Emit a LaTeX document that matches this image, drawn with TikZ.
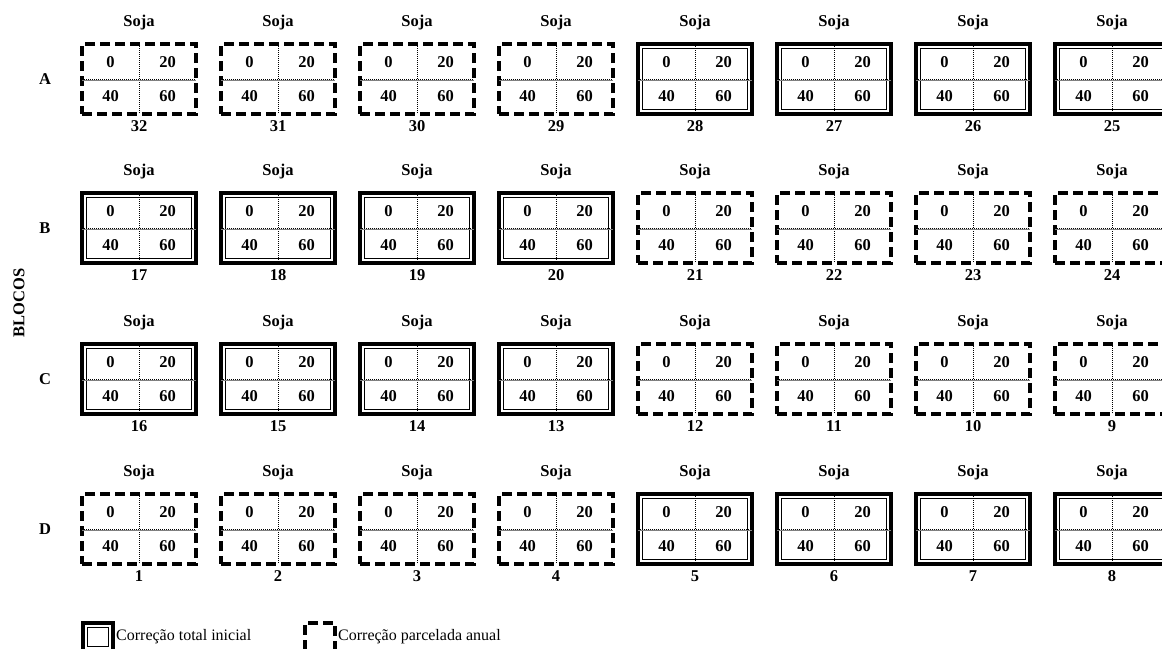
\documentclass[tikz,border=0pt]{standalone}
\usepackage{fontspec}
\setmainfont{Liberation Serif}
\usetikzlibrary{calc, positioning}
\tikzset{
    parcela/.style={minimum width=114pt, minimum height=70pt, inner sep=0pt, outer sep=0pt},
    legbox/.style={minimum width=30pt, minimum height=28pt, inner sep=0pt, outer sep=0pt},
    total/.style={draw=black, line width=3.6pt,
        path picture={\draw[line width=1.1pt]
            ([shift={(4.6pt,-4.6pt)}]path picture bounding box.north west) rectangle
            ([shift={(-4.6pt,4.6pt)}]path picture bounding box.south east);}},
    parcelada/.style={draw=black, line width=3.6pt, dash pattern=on 10pt off 5pt},
    divisor/.style={line width=1pt, densely dotted},
    divisorcinza/.style={line width=0.6pt, gray},
    dose/.style={font=\bfseries\fontsize{16.5}{16.5}\selectfont, inner sep=0pt},
    rotulo/.style={font=\bfseries\fontsize{16.5}{16.5}\selectfont, inner sep=0pt},
    legenda/.style={font=\fontsize{16}{16}\selectfont, inner sep=0pt}
}

\begin{document}
\begin{tikzpicture}[x=1pt, y=-1pt]
    \useasboundingbox (0,0) rectangle (1162,648);
    \clip (0,0) rectangle (1162,648);

    \node[rotulo, rotate=90] (blocos) at (19,303) {BLOCOS};

    % parcelas por bloco
    \foreach \lin/\yc/\lista in {
        A/79/{32/parcelada,31/parcelada,30/parcelada,29/parcelada,28/total,27/total,26/total,25/total},
        B/228/{17/total,18/total,19/total,20/total,21/parcelada,22/parcelada,23/parcelada,24/parcelada},
        C/379/{16/total,15/total,14/total,13/total,12/parcelada,11/parcelada,10/parcelada,9/parcelada},
        D/529/{1/parcelada,2/parcelada,3/parcelada,4/parcelada,5/total,6/total,7/total,8/total}}
    {
        \node[rotulo] (bloco\lin) at (45,\yc) {\lin};
        \foreach \num/\tipo [count=\col] in \lista {
            \node[parcela, \tipo] (p\num) at ({139*\col},\yc) {};
            \draw[divisor] (p\num.north) -- (p\num.south);
            \draw[divisor] (p\num.west) -- (p\num.east);
            \draw[divisorcinza] ([yshift=-1.5pt]p\num.west) -- ([yshift=-1.5pt]p\num.east);
            \node[dose] (p\num-a) at ($(p\num)+(-28.5,-17)$) {0};
            \node[dose] (p\num-b) at ($(p\num)+(28.5,-17)$) {20};
            \node[dose] (p\num-c) at ($(p\num)+(-28.5,17)$) {40};
            \node[dose] (p\num-d) at ($(p\num)+(28.5,17)$) {60};
            \node[rotulo, above=14pt of p\num] (s\num) {Soja};
            \node[rotulo, below=6pt of p\num] (n\num) {\num};
        }
    }

    % legenda
    \node[legbox, total] (legTotal) at (98,637) {};
    \node[legenda, right=3pt of legTotal] (txtTotal) {Correção total inicial};
    \node[legbox, parcelada] (legParc) at (320,637) {};
    \node[legenda, right=3pt of legParc] (txtParc) {Correção parcelada anual};
\end{tikzpicture}
\end{document}
